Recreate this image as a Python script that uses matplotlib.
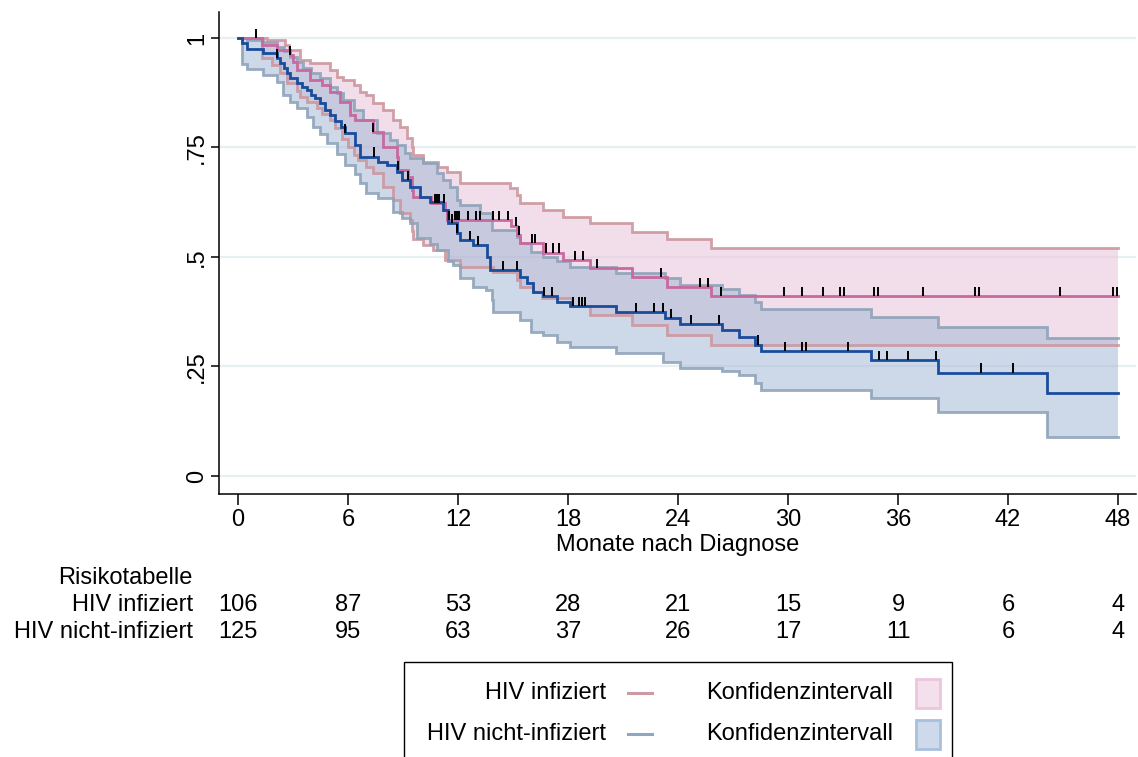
import numpy as np
import matplotlib
matplotlib.use("Agg")
import matplotlib.pyplot as plt
from matplotlib.patches import Rectangle
from matplotlib.lines import Line2D
from matplotlib.transforms import blended_transform_factory

plt.rcParams['font.family'] = ['Liberation Sans', 'DejaVu Sans']

# ---------------- data ----------------
x_ticks = [0, 6, 12, 18, 24, 30, 36, 42, 48]
y_ticks = [0, 0.25, 0.5, 0.75, 1]
y_ticklabels = ['0', '.25', '.5', '.75', '1']
x_label = 'Monate nach Diagnose'
group_names = ['HIV infiziert', 'HIV nicht-infiziert']
risk_title = 'Risikotabelle'
risk_hiv = [106, 87, 53, 28, 21, 15, 9, 6, 4]
risk_nonhiv = [125, 95, 63, 37, 26, 17, 11, 6, 4]
t_end = 48

# HIV infiziert: survival
hiv_t = [0, 1.29, 2.1, 2.84, 3.0, 3.2, 3.93, 4.56, 5.0, 5.56, 6.1, 6.4, 7.38, 7.93, 8.66, 8.75,
         9.29, 9.48, 9.56, 10.5, 11.3, 11.4, 14.9, 15.2, 15.4, 16.66, 17.75, 19.2, 21.5, 23.4, 25.8]
hiv_s = [1.0, 0.984, 0.973, 0.961, 0.945, 0.927, 0.904, 0.893, 0.877, 0.855, 0.824, 0.813, 0.786, 0.752,
         0.729, 0.699, 0.683, 0.653, 0.638, 0.623, 0.607, 0.584, 0.571, 0.55, 0.531, 0.51, 0.493,
         0.474, 0.454, 0.432, 0.411]
# HIV infiziert: lower CI
hiv_lo_t = [0, 1.29, 1.84, 2.3, 2.66, 3.2, 3.38, 3.75, 4.3, 4.56, 5.0, 5.3, 5.66, 6.0, 6.3, 6.56,
            7.0, 7.38, 7.93, 8.47, 8.84, 9.38, 9.48, 9.56, 10.1, 10.66, 11.3, 12.1, 13.93, 15.2,
            15.4, 16.1, 16.56, 18.2, 19.2, 21.5, 23.4, 25.8]
hiv_lo_s = [1.0, 0.955, 0.938, 0.919, 0.897, 0.88, 0.866, 0.855, 0.84, 0.826, 0.813, 0.795, 0.77,
            0.75, 0.733, 0.721, 0.705, 0.691, 0.66, 0.63, 0.60, 0.584, 0.56, 0.541, 0.527, 0.516,
            0.493, 0.478, 0.466, 0.447, 0.432, 0.421, 0.406, 0.387, 0.368, 0.345, 0.322, 0.298]
# HIV infiziert: upper CI
hiv_up_t = [0, 1.56, 2.56, 2.8, 3.38, 3.93, 5.0, 5.38, 5.75, 6.3, 6.66, 7.0, 7.38, 7.93, 8.47,
            8.84, 9.2, 9.48, 9.56, 10.1, 10.93, 11.4, 12.1, 14.84, 15.2, 15.4, 16.66, 17.75, 19.2,
            21.5, 23.4, 25.8]
hiv_up_s = [1.0, 0.995, 0.984, 0.973, 0.95, 0.942, 0.927, 0.912, 0.903, 0.893, 0.877, 0.87, 0.851,
            0.836, 0.813, 0.797, 0.771, 0.752, 0.733, 0.718, 0.706, 0.695, 0.668, 0.657, 0.642,
            0.623, 0.607, 0.592, 0.577, 0.558, 0.541, 0.52]
hiv_censor = [0.98, 2.84, 7.38, 8.75, 10.75, 10.84, 10.98, 11.26, 11.53, 11.84, 11.96, 12.07,
              12.53, 12.98, 13.2, 13.9, 14.26, 14.71, 15.17, 15.33, 16.06, 16.2, 16.78, 17.2,
              17.53, 18.39, 18.8, 19.6, 23.08, 25.2, 25.62, 26.35, 29.79, 30.75, 31.93, 32.84,
              33.06, 34.7, 34.93, 37.39, 40.2, 40.44, 44.84, 47.72, 47.94]

# HIV nicht-infiziert: survival
nh_t = [0, 0.2, 0.47, 1.38, 2.1, 2.3, 2.5, 2.65, 2.84, 3.2, 3.5, 3.75, 4.0, 4.2, 4.47, 4.75, 5.0,
        5.3, 5.6, 5.84, 6.38, 6.66, 7.66, 8.1, 8.66, 8.93, 9.38, 9.93, 10.47, 11.2, 11.47, 11.93,
        12.1, 12.8, 13.6, 13.75, 15.4, 15.75, 16.1, 16.66, 17.4, 18.1, 20.6, 23.3, 24.1, 26.4,
        27.3, 28.2, 28.55, 34.5, 38.2, 44.1]
nh_s = [1.0, 0.988, 0.976, 0.965, 0.954, 0.943, 0.931, 0.92, 0.908, 0.897, 0.889, 0.881, 0.87,
        0.862, 0.851, 0.836, 0.824, 0.81, 0.797, 0.782, 0.756, 0.729, 0.718, 0.71, 0.695, 0.676,
        0.66, 0.638, 0.626, 0.607, 0.577, 0.554, 0.538, 0.527, 0.501, 0.47, 0.455, 0.44, 0.421,
        0.41, 0.398, 0.387, 0.375, 0.36, 0.347, 0.333, 0.318, 0.30, 0.286, 0.265, 0.236, 0.189]
# HIV nicht-infiziert: lower CI
nh_lo_t = [0, 0.2, 0.47, 1.38, 2.1, 2.47, 2.84, 3.2, 3.75, 4.1, 4.47, 4.84, 5.38, 5.84, 6.38, 6.66,
           7.0, 7.66, 8.47, 8.93, 9.38, 9.75, 10.47, 10.84, 11.47, 11.75, 12.1, 12.84, 13.5, 13.84,
           13.93, 15.4, 16.0, 16.66, 17.4, 18.1, 20.6, 23.2, 24.1, 26.4, 27.3, 28.2, 28.55, 34.5,
           38.2, 44.1]
nh_lo_s = [1.0, 0.94, 0.93, 0.916, 0.9, 0.87, 0.855, 0.84, 0.82, 0.797, 0.78, 0.76, 0.735, 0.71,
           0.69, 0.668, 0.645, 0.634, 0.603, 0.59, 0.577, 0.543, 0.53, 0.516, 0.49, 0.482, 0.451,
           0.432, 0.425, 0.402, 0.375, 0.356, 0.329, 0.322, 0.307, 0.295, 0.281, 0.261, 0.246,
           0.239, 0.231, 0.212, 0.196, 0.177, 0.145, 0.09]
# HIV nicht-infiziert: upper CI
nh_up_t = [0, 0.47, 1.38, 2.1, 2.5, 2.84, 3.2, 3.56, 4.0, 4.47, 5.0, 5.38, 5.75, 6.3, 6.84, 7.57,
           8.3, 8.66, 9.1, 9.38, 10.1, 10.84, 11.2, 11.57, 11.93, 12.1, 13.2, 13.84, 15.2, 15.4,
           16.0, 16.66, 17.4, 18.1, 20.6, 23.3, 24.1, 26.4, 27.3, 28.2, 28.55, 34.5, 38.2, 44.1]
nh_up_s = [1.0, 0.995, 0.99, 0.98, 0.97, 0.957, 0.945, 0.931, 0.92, 0.908, 0.889, 0.875, 0.858,
           0.836, 0.813, 0.782, 0.767, 0.755, 0.737, 0.725, 0.714, 0.691, 0.675, 0.66, 0.63,
           0.619, 0.60, 0.562, 0.545, 0.531, 0.512, 0.501, 0.49, 0.478, 0.463, 0.451, 0.436,
           0.427, 0.413, 0.398, 0.381, 0.362, 0.34, 0.314]
nh_censor = [2.15, 5.84, 7.44, 9.29, 11.66, 11.93, 12.66, 13.08, 14.47, 15.24, 16.71, 17.15,
             18.26, 18.6, 18.79, 18.93, 21.71, 22.71, 23.17, 23.6, 24.7, 26.24, 28.39, 29.84,
             30.75, 30.97, 33.26, 34.97, 35.39, 36.52, 38.08, 40.52, 42.3]

# ---------------- style ----------------
W, H = 1138, 757
PINK_LINE = '#c8699f'
BLUE_LINE = '#1a4c9c'
PINK_CI = '#cc979e'
BLUE_CI = '#8ea3b9'
PINK_FILL = '#e7bfd9'
BLUE_FILL = '#9db5d5'
GRID = '#e8eff2'
FS = 17


def ext(t, s):
    return np.array(list(t) + [t_end]), np.array(list(s) + [s[-1]])


def step_at(t, s, x):
    idx = np.searchsorted(np.asarray(t), np.asarray(x), side='right') - 1
    return np.asarray(s)[idx]


fig = plt.figure(figsize=(W / 100, H / 100), dpi=100)

# axes placement in pixels
x0_px, x48_px = 238, 1118
y0_px, y1_px = 476, 38
ppm = (x48_px - x0_px) / 48.0
ppu = (y0_px - y1_px)
left_px, right_px, top_px, bot_px = 219, 1136, 12, 494
ax = fig.add_axes([left_px / W, 1 - bot_px / H, (right_px - left_px) / W, (bot_px - top_px) / H])
ax.set_xlim((left_px - x0_px) / ppm, (right_px - x0_px) / ppm)
ax.set_ylim((y0_px - bot_px) / ppu, (y0_px - top_px) / ppu)

for yv in y_ticks:
    ax.axhline(yv, color=GRID, lw=1.6, zorder=0)

# fills
for (lt, ls, ut, us, col) in [(hiv_lo_t, hiv_lo_s, hiv_up_t, hiv_up_s, PINK_FILL),
                              (nh_lo_t, nh_lo_s, nh_up_t, nh_up_s, BLUE_FILL)]:
    tl, sl = ext(lt, ls)
    tu, su = ext(ut, us)
    grid = np.union1d(tl, tu)
    lo = step_at(tl, sl, grid)
    up = step_at(tu, su, grid)
    ax.fill_between(grid, lo, up, step='post', color=col, alpha=0.5, lw=0, zorder=1)

# CI boundary lines
for (t, s, col) in [(hiv_lo_t, hiv_lo_s, PINK_CI), (hiv_up_t, hiv_up_s, PINK_CI),
                    (nh_lo_t, nh_lo_s, BLUE_CI), (nh_up_t, nh_up_s, BLUE_CI)]:
    tt, ss = ext(t, s)
    ax.step(tt, ss, where='post', color=col, lw=2.0, alpha=0.9, zorder=2,
            solid_joinstyle='miter')

# survival lines
for (t, s, col) in [(hiv_t, hiv_s, PINK_LINE), (nh_t, nh_s, BLUE_LINE)]:
    tt, ss = ext(t, s)
    ax.step(tt, ss, where='post', color=col, lw=2.0, zorder=3, solid_joinstyle='miter')

# censoring ticks
for (t, s, cens) in [(hiv_t, hiv_s, hiv_censor), (nh_t, nh_s, nh_censor)]:
    yv = step_at(t, s, cens)
    ax.vlines(cens, yv, yv + 0.021, color='black', lw=1.4, zorder=4)

# axes styling
for sp in ['top', 'right']:
    ax.spines[sp].set_visible(False)
for sp in ['left', 'bottom']:
    ax.spines[sp].set_linewidth(1.1)
ax.set_xticks(x_ticks)
ax.set_xticklabels([str(v) for v in x_ticks], fontsize=FS)
ax.set_yticks(y_ticks)
ax.set_yticklabels(y_ticklabels, fontsize=FS, rotation=90, va='center')
ax.tick_params(axis='x', length=8, width=1.1, pad=3)
ax.tick_params(axis='y', length=6, width=1.1, pad=2)
ax.set_xlabel(x_label, fontsize=FS, labelpad=2)

# risk table
tr = blended_transform_factory(ax.transData, fig.transFigure)
fig.text(193 / W, 1 - 578 / H, risk_title, fontsize=FS, ha='right', va='center')
for name, row, py in [(group_names[0], risk_hiv, 605), (group_names[1], risk_nonhiv, 632)]:
    fig.text(193 / W, 1 - py / H, name, fontsize=FS, ha='right', va='center')
    for xv, n in zip(x_ticks, row):
        ax.text(xv, 1 - py / H, str(n), transform=tr, fontsize=FS, ha='center', va='center',
                clip_on=False)

# legend box
ft = fig.transFigure
fig.patches.append(Rectangle((404 / W, 1 - 775 / H), (952 - 404) / W, (775 - 662) / H,
                             transform=ft, fill=False, edgecolor='black', lw=1.0))
leg_rows = [(group_names[0], '#cc9aa2', '#f4dfec', '#ebc6dc', 693),
            (group_names[1], '#8ea6bf', '#cedaeb', '#a9c0dd', 734)]
for name, lc, fc, ec, py in leg_rows:
    fig.text(606 / W, 1 - py / H, name, fontsize=FS, ha='right', va='center')
    fig.lines.append(Line2D([628 / W, 652 / W], [1 - py / H, 1 - py / H], transform=ft,
                            color=lc, lw=2.2))
    fig.text(706 / W, 1 - py / H, 'Konfidenzintervall', fontsize=FS, ha='left', va='center')
    fig.patches.append(Rectangle((916 / W, 1 - (py + 15) / H), 24 / W, 29 / H, transform=ft,
                                 facecolor=fc, edgecolor=ec, lw=2.0))

fig.savefig('out.png', dpi=100)
